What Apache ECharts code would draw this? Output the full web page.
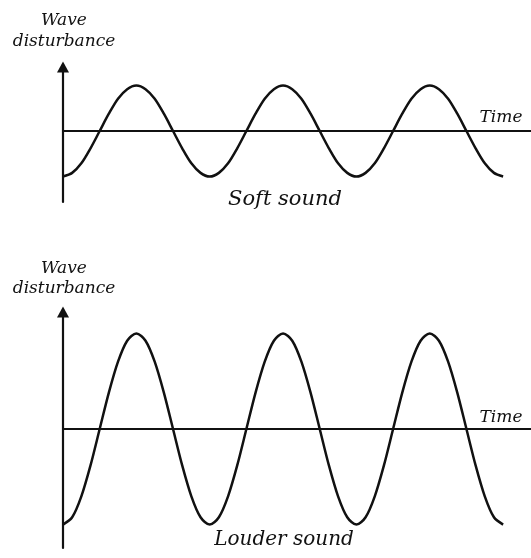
<!DOCTYPE html>
<html>
<head>
<meta charset="utf-8">
<style>
  html, body { margin: 0; padding: 0; background: #ffffff; }
  #chart { width: 531px; height: 558px; }
</style>
<script src="https://cdn.jsdelivr.net/npm/echarts@6/dist/echarts.min.js"></script>
</head>
<body>
<div id="chart"></div>
<script>
// Time, in wave periods (sixteenth-period steps over three cycles)
const timeSteps = [
  0, 0.0625, 0.125, 0.1875, 0.25, 0.3125, 0.375, 0.4375,
  0.5, 0.5625, 0.625, 0.6875, 0.75, 0.8125, 0.875, 0.9375,
  1, 1.0625, 1.125, 1.1875, 1.25, 1.3125, 1.375, 1.4375,
  1.5, 1.5625, 1.625, 1.6875, 1.75, 1.8125, 1.875, 1.9375,
  2, 2.0625, 2.125, 2.1875, 2.25, 2.3125, 2.375, 2.4375,
  2.5, 2.5625, 2.625, 2.6875, 2.75, 2.8125, 2.875, 2.9375,
  3
];

// Wave disturbance of the soft sound (small amplitude)
const softWave = [
  -1, -0.92, -0.71, -0.38, 0, 0.38, 0.71, 0.92,
  1, 0.92, 0.71, 0.38, 0, -0.38, -0.71, -0.92,
  -1, -0.92, -0.71, -0.38, 0, 0.38, 0.71, 0.92,
  1, 0.92, 0.71, 0.38, 0, -0.38, -0.71, -0.92,
  -1, -0.92, -0.71, -0.38, 0, 0.38, 0.71, 0.92,
  1, 0.92, 0.71, 0.38, 0, -0.38, -0.71, -0.92,
  -1
];

// Wave disturbance of the louder sound (larger amplitude, same frequency)
const loudWave = [
  -2.1, -1.94, -1.48, -0.8, 0, 0.8, 1.48, 1.94,
  2.1, 1.94, 1.48, 0.8, 0, -0.8, -1.48, -1.94,
  -2.1, -1.94, -1.48, -0.8, 0, 0.8, 1.48, 1.94,
  2.1, 1.94, 1.48, 0.8, 0, -0.8, -1.48, -1.94,
  -2.1, -1.94, -1.48, -0.8, 0, 0.8, 1.48, 1.94,
  2.1, 1.94, 1.48, 0.8, 0, -0.8, -1.48, -1.94,
  -2.1
];

const panelTitles = ['Soft sound', 'Louder sound'];
const yAxisName = ['Wave', 'disturbance'];
const xAxisName = 'Time';

const ink = '#111111';
const serif = '"DejaVu Serif", "Liberation Serif", serif';

function pairs(xs, ys) {
  return xs.map((x, i) => [x, ys[i]]);
}

function xAxisFor(gridIndex) {
  return {
    type: 'value', gridIndex: gridIndex, min: 0, max: 3.19,
    axisLine: { show: true, onZero: true, lineStyle: { color: ink, width: 2.2 } },
    axisTick: { show: false }, axisLabel: { show: false }, splitLine: { show: false }
  };
}

function yAxisFor(gridIndex, min, max) {
  return {
    type: 'value', gridIndex: gridIndex, min: min, max: max,
    axisLine: {
      show: true, onZero: true,
      symbol: ['none', 'triangle'], symbolSize: [12, 11],
      lineStyle: { color: ink, width: 2.2 }
    },
    axisTick: { show: false }, axisLabel: { show: false }, splitLine: { show: false }
  };
}

function waveSeries(index, values) {
  return {
    type: 'line', xAxisIndex: index, yAxisIndex: index,
    data: pairs(timeSteps, values),
    smooth: 0.3, showSymbol: false, silent: true,
    lineStyle: { color: ink, width: 2.5 }
  };
}

function label(text, x, y, size) {
  return {
    type: 'text', x: x, y: y, silent: true,
    style: {
      text: text, fill: ink, align: 'center', verticalAlign: 'middle',
      font: 'italic ' + size + 'px ' + serif
    }
  };
}

const chart = echarts.init(document.getElementById('chart'), null, { renderer: 'canvas' });

chart.setOption({
  backgroundColor: '#ffffff',
  animation: false,
  grid: [
    { left: 63, right: 0, top: 67, height: 135 },
    { left: 63, right: 0, top: 312, height: 236 }
  ],
  xAxis: [xAxisFor(0), xAxisFor(1)],
  yAxis: [yAxisFor(0, -1.56, 1.407), yAxisFor(1, -2.615, 2.571)],
  series: [waveSeries(0, softWave), waveSeries(1, loudWave)],
  graphic: [
    label(yAxisName[0], 64, 21, 17),
    label(yAxisName[1], 64, 41.5, 17),
    label(xAxisName, 501, 118, 17),
    label(panelTitles[0], 285, 200, 21),
    label(yAxisName[0], 64, 269, 17),
    label(yAxisName[1], 64, 289, 17),
    label(xAxisName, 501, 418, 17),
    label(panelTitles[1], 284, 540, 20)
  ]
});
</script>
</body>
</html>
